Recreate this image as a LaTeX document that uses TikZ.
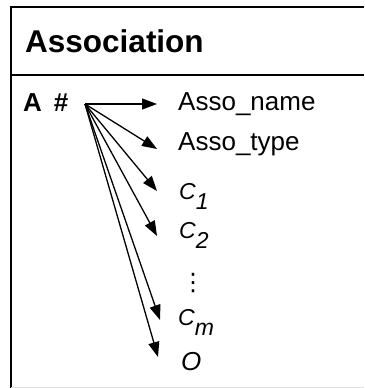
\documentclass[tikz,border=0pt]{standalone}
\usepackage{fontspec}
\setmainfont{Liberation Sans}
\newfontfamily\symfont{DejaVu Sans}
\usetikzlibrary{arrows.meta}

\tikzset{
  frameline/.style={line width=2pt},
  field/.style={anchor=base west, inner sep=0pt, font=\fontsize{26}{30}\selectfont},
  fieldarrow/.style={line width=1.3pt, -{Triangle[length=15pt,width=11pt]}},
}
\newcommand{\cls}[1]{{\itshape\fontsize{23}{27}\selectfont C\raisebox{-10pt}{#1}}}

\begin{document}
\begin{tikzpicture}[x=1pt,y=-1pt]
    \useasboundingbox (0,0) rectangle (364,388);
    % Frame of the class box
    \draw[frameline] (364,7) -- (11,7) -- (11,388);
    \draw[frameline] (11,75) -- (364,75);
    \draw[black!12] (11,387.5) -- (364,387.5);
    % Header
    \node[anchor=base west, inner sep=0pt, font=\bfseries\fontsize{31.5}{36}\selectfont] (title) at (25,52) {Association};
    % Key and its fields
    \node[field, font=\bfseries\fontsize{26}{30}\selectfont] (key) at (23,111) {A\hspace{12pt}\#};
    \coordinate (src) at (85,104);
    \node[field] (aname) at (178,110) {Asso\_name};
    \node[field] (atype) at (178,150) {Asso\_type};
    \node[field] (c1) at (179,199.5) {\cls{1}};
    \node[field] (c2) at (179,238) {\cls{2}};
    \node[field, anchor=center, font=\symfont\fontsize{24}{28}\selectfont] (dots) at (193,283) {⋮};
    \node[field] (cm) at (178,325) {\cls{\textit{m}}};
    \node[field, font=\itshape\fontsize{26}{30}\selectfont] (obj) at (181,370) {O};
    % Arrow tips
    \coordinate (t1) at (157,104);
    \coordinate (t2) at (157,149);
    \coordinate (t3) at (157,191);
    \coordinate (t4) at (157,236);
    \coordinate (t5) at (160,320);
    \coordinate (t6) at (158,357);
    \foreach \t in {t1,t2,t3,t4,t5,t6}
        \draw[fieldarrow] (src) -- (\t);
\end{tikzpicture}
\end{document}
